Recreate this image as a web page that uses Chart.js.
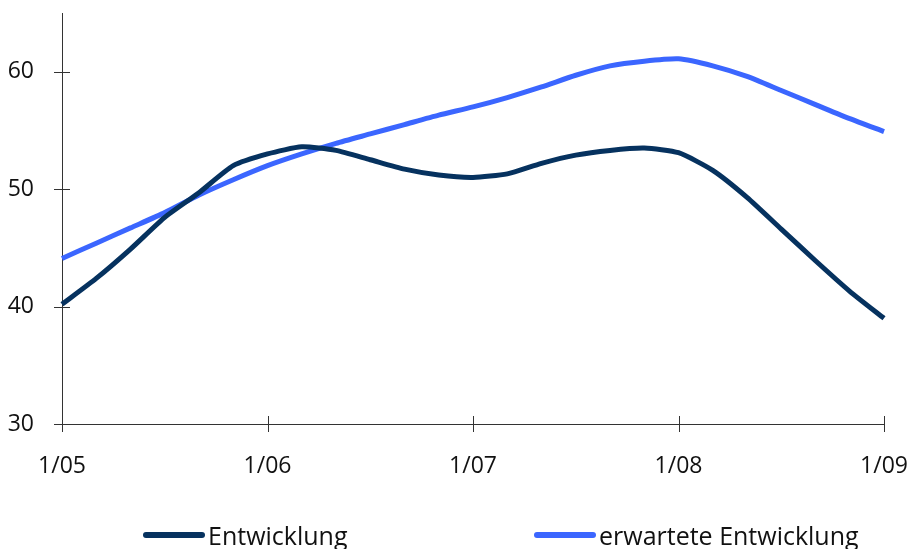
<!DOCTYPE html>
<html>
<head>
<meta charset="utf-8">
<script src="https://cdn.jsdelivr.net/npm/chart.js@4/dist/chart.umd.min.js"></script>
<style>
  body { margin: 0; background: #fff; }
  #wrap { position: relative; width: 909px; height: 549px; overflow: hidden; }
  .legend-item { position: absolute; top: 518px; display: flex; align-items: center;
    font-family: "Open Sans", sans-serif; font-size: 25px; color: #111; white-space: nowrap; }
  .swatch { width: 62px; height: 6px; border-radius: 3px; margin-right: 3px; }
</style>
</head>
<body>
<div id="wrap">
  <canvas id="chart" width="909" height="549"></canvas>
  <div class="legend-item" style="left:143px"><span class="swatch" style="background:#06325f"></span>Entwicklung</div>
  <div class="legend-item" style="left:534px"><span class="swatch" style="background:#3b66ff"></span>erwartete Entwicklung</div>
</div>
<script>
const ctx = document.getElementById('chart');

// every second month from 1/05 to 1/09
const months = ['1/05','3/05','5/05','7/05','9/05','11/05',
  '1/06','3/06','5/06','7/06','9/06','11/06',
  '1/07','3/07','5/07','7/07','9/07','11/07',
  '1/08','3/08','5/08','7/08','9/08','11/08','1/09'];

const entwicklung = [40.2, 42.4, 44.9, 47.6, 49.7, 52.0, 53.0, 53.6, 53.3, 52.5, 51.7, 51.2,
  51.0, 51.3, 52.2, 52.9, 53.3, 53.5, 53.1, 51.6, 49.3, 46.6, 43.9, 41.3, 39.0];

const erwartet = [44.1, 45.4, 46.7, 48.0, 49.5, 50.8, 52.0, 53.0, 53.9, 54.7, 55.5, 56.3,
  57.0, 57.8, 58.7, 59.7, 60.5, 60.9, 61.1, 60.5, 59.6, 58.4, 57.2, 56.0, 54.9];

const yTicks = [30, 40, 50, 60];

// small tick marks that cross the axes
const crossTicks = {
  id: 'crossTicks',
  afterDraw(chart) {
    const c = chart.ctx;
    const x = chart.scales.x, y = chart.scales.y;
    c.save();
    c.strokeStyle = '#333';
    c.lineWidth = 1;
    c.beginPath();
    yTicks.forEach(v => {
      const py = Math.round(y.getPixelForValue(v)) + 0.5;
      c.moveTo(x.left - 8, py);
      c.lineTo(x.left + 8, py);
    });
    months.forEach((m, i) => {
      if (!m.startsWith('1/')) return;
      const px = Math.round(x.getPixelForValue(i)) + 0.5;
      c.moveTo(px, y.bottom - 8);
      c.lineTo(px, y.bottom + 8);
    });
    c.stroke();
    c.restore();
  }
};

new Chart(ctx, {
  type: 'line',
  data: {
    labels: months,
    datasets: [{
      label: 'Entwicklung',
      data: entwicklung,
      borderColor: '#06325f',
      backgroundColor: '#06325f',
      borderWidth: 5,
      pointRadius: 0,
      tension: 0.2
    }, {
      label: 'erwartete Entwicklung',
      data: erwartet,
      borderColor: '#3b66ff',
      backgroundColor: '#3b66ff',
      borderWidth: 5,
      pointRadius: 0,
      tension: 0.2
    }]
  },
  options: {
    responsive: false,
    animation: false,
    layout: { autoPadding: false, padding: { left: 0, top: 13, bottom: 65, right: 25 } },
    plugins: {
      legend: { display: false },
      tooltip: { enabled: false }
    },
    scales: {
      x: {
        grid: { display: false },
        border: { display: true, color: '#333', width: 1 },
        afterFit: function (axis) {
          axis.height = 60;
          axis.paddingLeft = 0;
          axis.paddingRight = 0;
        },
        ticks: {
          autoSkip: false,
          maxRotation: 0,
          padding: 21,
          color: '#111',
          font: { family: 'Open Sans', size: 23 },
          callback: function (val, i) { return months[i].startsWith('1/') ? months[i] : ''; }
        }
      },
      y: {
        min: 30,
        max: 65,
        grid: { display: false },
        border: { display: true, color: '#333', width: 1 },
        afterFit: function (axis) {
          axis.width = 62;
          axis.paddingTop = 0;
          axis.paddingBottom = 0;
        },
        afterBuildTicks: function (axis) { axis.ticks = yTicks.map(v => ({ value: v })); },
        ticks: {
          padding: 20,
          color: '#111',
          font: { family: 'Open Sans', size: 23 }
        }
      }
    }
  },
  plugins: [crossTicks]
});
</script>
</body>
</html>
